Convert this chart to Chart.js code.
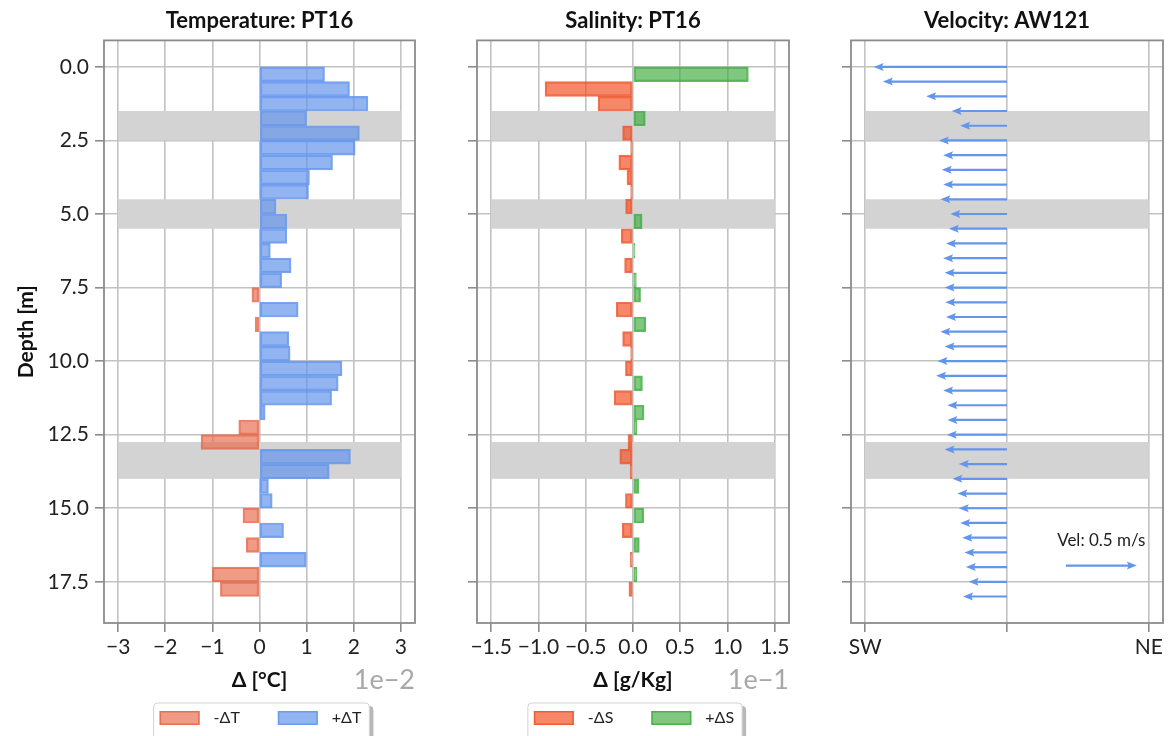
<!DOCTYPE html>
<html>
<head>
<meta charset="utf-8">
<script src="https://cdn.jsdelivr.net/npm/chart.js@4.4.1/dist/chart.umd.min.js"></script>
<style>
  html, body { margin: 0; padding: 0; background: #fff; overflow: hidden; }
  #wrap { position: relative; width: 1168px; height: 736px; }
  canvas { position: absolute; top: 0; }
</style>
</head>
<body>
<div id="wrap">
  <canvas id="cT" width="440" height="736" style="left:0px"></canvas>
  <canvas id="cS" width="370" height="736" style="left:440px"></canvas>
  <canvas id="cV" width="358" height="736" style="left:810px"></canvas>
</div>
<script>
// ---- profile data: 0.5 m depth bins starting at the surface ----
const binWidth = 0.5;
const depthTop = [0, 0.5, 1, 1.5, 2, 2.5, 3, 3.5, 4, 4.5, 5, 5.5, 6, 6.5, 7, 7.5, 8, 8.5,
                  9, 9.5, 10, 10.5, 11, 11.5, 12, 12.5, 13, 13.5, 14, 14.5, 15, 15.5, 16, 16.5, 17, 17.5];

// temperature change per bin [°C]
const tempDelta = [0.0138, 0.0191, 0.0230, 0.0100, 0.0212, 0.0203, 0.0155, 0.0106, 0.0104, 0.0035,
                   0.0058, 0.0058, 0.0023, 0.0067, 0.0047, -0.0016, 0.0082, -0.0009, 0.0062, 0.0065,
                   0.0175, 0.0167, 0.0153, 0.0012, -0.0044, -0.0124, 0.0193, 0.0148, 0.0019, 0.0027,
                   -0.0035, 0.0051, -0.0028, 0.0099, -0.0100, -0.0083];

// salinity change per bin [g/kg]
const salDelta = [0.122, -0.093, -0.037, 0.013, -0.011, -0.0025, -0.015, -0.0064, -0.0025, -0.0078,
                  0.0096, -0.0124, 0.002, -0.0089, 0.0035, 0.008, -0.0177, 0.0135, -0.011, -0.0025,
                  -0.008, 0.010, -0.020, 0.0117, 0.004, -0.0053, -0.014, -0.003, 0.006, -0.008,
                  0.0113, -0.0113, 0.0067, -0.0028, 0.004, -0.0043];

// current meter AW121: along-shore velocity [m/s] (negative = towards SW)
const velDepth = [0, 0.5, 1, 1.5, 2, 2.5, 3, 3.5, 4, 4.5, 5, 5.5, 6, 6.5, 7, 7.5, 8, 8.5, 9,
                  9.5, 10, 10.5, 11, 11.5, 12, 12.5, 13, 13.5, 14, 14.5, 15, 15.5, 16, 16.5, 17, 17.5, 18];
const velU = [-0.94, -0.875, -0.57, -0.39, -0.33, -0.48, -0.45, -0.46, -0.45, -0.47, -0.40, -0.41,
              -0.43, -0.45, -0.44, -0.44, -0.435, -0.43, -0.47, -0.44, -0.49, -0.50, -0.45, -0.42,
              -0.42, -0.425, -0.44, -0.34, -0.385, -0.35, -0.34, -0.33, -0.315, -0.30, -0.29, -0.27, -0.31];

// depth ranges flagged as unreliable (shaded)
const flaggedLayers = [[1.5, 2.5], [4.5, 5.5], [12.75, 14.0]];

// axes
const depthMin = -0.9, depthMax = 18.9;
const depthTicks = [0, 2.5, 5, 7.5, 10, 12.5, 15, 17.5];
const tempTicks = [-0.03, -0.02, -0.01, 0, 0.01, 0.02, 0.03];
const salTicks = [-0.15, -0.10, -0.05, 0, 0.05, 0.10, 0.15];
const velTicks = [-1, 0, 1];
const velTickLabels = ['SW', '', 'NE'];

// velocity reference arrow
const keyU = 0.5, keyStartU = 0.415, keyDepth = 16.95, keyTextDepth = 16.1;
const keyLabel = 'Vel: 0.5 m/s';

// ---- styling ----
Chart.defaults.font.family = 'Lato, "DejaVu Sans", sans-serif';
Chart.defaults.color = '#222';
const GRID = '#c2c2c2';
const SPINE = '#8c8c8c';
const BAND = '#d3d3d3';
const ARROW = '#6495ed';

const minus = s => String(s).replace('-', '\u2212');

function bins(values, keep) {
  return depthTop.map((d, i) => ({ y: d + binWidth / 2, x: values[i] })).filter(p => keep(p.x));
}

function barSet(label, data, fill, edge) {
  return {
    label, data,
    backgroundColor: fill, borderColor: edge, borderWidth: 1.5, borderSkipped: false,
    grouped: false, barPercentage: 1, categoryPercentage: 1
  };
}

// shaded layers, drawn under the data but over the grid
function bandsPlugin(span) {
  return {
    id: 'bands',
    beforeDatasetsDraw(chart) {
      const { ctx, scales: { x, y } } = chart;
      ctx.save();
      ctx.fillStyle = BAND;
      const x0 = x.getPixelForValue(span[0]), x1 = x.getPixelForValue(span[1]);
      flaggedLayers.forEach(([d0, d1]) => {
        const y0 = y.getPixelForValue(d0), y1 = y.getPixelForValue(d1);
        ctx.fillRect(x0, y0, x1 - x0, y1 - y0);
      });
      ctx.restore();
    }
  };
}

// axes frame on all four sides
const framePlugin = {
  id: 'frame',
  afterDraw(chart) {
    const { ctx, chartArea: a } = chart;
    ctx.save();
    ctx.strokeStyle = SPINE;
    ctx.lineWidth = 1.8;
    ctx.strokeRect(a.left, a.top, a.right - a.left, a.bottom - a.top);
    ctx.restore();
  }
};

// scale multiplier shown at the end of the x axis
function offsetTextPlugin(text) {
  return {
    id: 'offsetText',
    afterDraw(chart) {
      const { ctx, chartArea: a } = chart;
      ctx.save();
      ctx.font = '27px Lato, sans-serif';
      ctx.fillStyle = '#a8a8a8';
      ctx.textAlign = 'right';
      ctx.textBaseline = 'middle';
      ctx.fillText(text, a.right, a.bottom + 57);
      ctx.restore();
    }
  };
}

// framed legend below the axis
const boxLegendPlugin = {
  id: 'boxLegend',
  afterDraw(chart) {
    const { ctx, chartArea: a } = chart;
    const sw = 40, sh = 14, gapText = 14, gapItem = 38;
    ctx.save();
    ctx.font = '16px Lato, sans-serif';
    const items = chart.data.datasets.map(d => ({
      label: d.label, fill: d.backgroundColor, edge: d.borderColor, w: ctx.measureText(d.label).width
    }));
    const total = items.reduce((s, it) => s + sw + gapText + it.w, 0) + gapItem * (items.length - 1);
    let x = (a.left + a.right) / 2 - total / 2 + 1;
    const cy = a.bottom + 95;
    const bx = x - 6, by = cy - 15, bw = total + 14, bh = 60;
    ctx.fillStyle = 'rgba(0,0,0,0.28)';
    ctx.beginPath(); ctx.roundRect(bx + 4, by + 3, bw, bh, 4); ctx.fill();
    ctx.fillStyle = '#fff';
    ctx.strokeStyle = '#d2d2d2';
    ctx.lineWidth = 1;
    ctx.beginPath(); ctx.roundRect(bx, by, bw, bh, 4); ctx.fill(); ctx.stroke();
    ctx.textBaseline = 'middle';
    ctx.textAlign = 'left';
    items.forEach(it => {
      ctx.fillStyle = it.fill;
      ctx.fillRect(x, cy - sh / 2, sw, sh);
      ctx.strokeStyle = it.edge;
      ctx.lineWidth = 1.5;
      ctx.strokeRect(x + 0.75, cy - sh / 2 + 0.75, sw - 1.5, sh - 1.5);
      ctx.fillStyle = '#222';
      ctx.fillText(it.label, x + sw + gapText, cy);
      x += sw + gapText + it.w + gapItem;
    });
    ctx.restore();
  }
};

function drawArrow(ctx, x0, y0, x1, y1) {
  const len = Math.hypot(x1 - x0, y1 - y0);
  const ang = Math.atan2(y1 - y0, x1 - x0);
  const hw = 1.1, headLen = 10, headAx = 8.5, headW = 4;
  ctx.save();
  ctx.translate(x0, y0);
  ctx.rotate(ang);
  ctx.beginPath();
  ctx.moveTo(0, -hw);
  ctx.lineTo(len - headAx, -hw);
  ctx.lineTo(len - headLen, -headW);
  ctx.lineTo(len, 0);
  ctx.lineTo(len - headLen, headW);
  ctx.lineTo(len - headAx, hw);
  ctx.lineTo(0, hw);
  ctx.closePath();
  ctx.fill();
  ctx.restore();
}

// quiver arrows from the velocity dataset, plus a reference arrow
const quiverPlugin = {
  id: 'quiver',
  afterDatasetsDraw(chart) {
    const { ctx, scales: { x, y } } = chart;
    ctx.save();
    ctx.fillStyle = ARROW;
    const x0 = x.getPixelForValue(0);
    chart.data.datasets[0].data.forEach(p => {
      const py = y.getPixelForValue(p.y);
      drawArrow(ctx, x0, py, x.getPixelForValue(p.x), py);
    });
    const ky = y.getPixelForValue(keyDepth);
    drawArrow(ctx, x.getPixelForValue(keyStartU), ky, x.getPixelForValue(keyStartU + keyU), ky);
    ctx.fillStyle = '#222';
    ctx.font = '17px Lato, sans-serif';
    ctx.textAlign = 'center';
    ctx.textBaseline = 'middle';
    ctx.fillText(keyLabel, x.getPixelForValue(keyStartU + keyU / 2), y.getPixelForValue(keyTextDepth));
    ctx.restore();
  }
};

function panelOptions(cfg) {
  const grid = { color: GRID, lineWidth: 1.6, tickColor: SPINE, tickLength: 9, tickWidth: 1.6, offset: false };
  return {
    responsive: false,
    animation: false,
    events: [],
    indexAxis: cfg.indexAxis || 'x',
    layout: { padding: { left: 0, top: 0, bottom: 0, right: cfg.padRight } },
    plugins: {
      legend: { display: false },
      tooltip: { enabled: false },
      title: {
        display: true, text: cfg.title, fullSize: false, color: '#111',
        font: { size: 22, weight: 'bold' }, padding: { top: 8, bottom: 6 }
      }
    },
    scales: {
      x: {
        type: 'linear', position: 'bottom', min: cfg.xMin, max: cfg.xMax, offset: false,
        afterBuildTicks: s => { s.ticks = cfg.xTicks.map(v => ({ value: v })); },
        afterFit: s => { s.height = 113; },
        ticks: { callback: cfg.xFmt, font: { size: 21 }, color: '#222', padding: 3, maxRotation: 0, autoSkip: false },
        grid,
        border: { display: false },
        title: {
          display: !!cfg.xTitle, text: cfg.xTitle || '', color: '#111',
          font: { size: 21, weight: 'bold' }, padding: { top: 0, bottom: 43 }
        }
      },
      y: {
        type: 'linear', position: 'left', reverse: true, min: depthMin, max: depthMax, offset: false,
        afterBuildTicks: s => { s.ticks = depthTicks.map(v => ({ value: v })); },
        afterFit: s => { s.width = cfg.yWidth; },
        ticks: { display: cfg.depthLabels, callback: v => v.toFixed(1), font: { size: 21 }, color: '#222', padding: 6 },
        grid,
        border: { display: false },
        title: {
          display: cfg.depthLabels, text: 'Depth [m]', color: '#111',
          font: { size: 21, weight: 'bold' }, padding: { top: 14, bottom: 0 }
        }
      }
    }
  };
}

// Temperature
new Chart(document.getElementById('cT'), {
  type: 'bar',
  data: {
    datasets: [
      barSet('-\u0394T', bins(tempDelta, v => v < 0), 'rgba(231,108,77,0.68)', 'rgba(228,100,70,0.8)'),
      barSet('+\u0394T', bins(tempDelta, v => v >= 0), 'rgba(100,149,237,0.7)', 'rgba(100,149,237,0.85)')
    ]
  },
  options: panelOptions({
    indexAxis: 'y', title: 'Temperature: PT16', padRight: 25, yWidth: 104, depthLabels: true,
    xMin: -0.033, xMax: 0.033, xTicks: tempTicks, xTitle: '\u0394 [\u00b0C]',
    xFmt: v => minus(Math.round(v * 100))
  }),
  plugins: [bandsPlugin([-0.03, 0.03]), framePlugin, offsetTextPlugin('1e\u22122'), boxLegendPlugin]
});

// Salinity
new Chart(document.getElementById('cS'), {
  type: 'bar',
  data: {
    datasets: [
      barSet('-\u0394S', bins(salDelta, v => v < 0), 'rgba(241,80,34,0.68)', 'rgba(238,80,40,0.8)'),
      barSet('+\u0394S', bins(salDelta, v => v >= 0), 'rgba(60,170,60,0.65)', 'rgba(60,170,60,0.8)')
    ]
  },
  options: panelOptions({
    indexAxis: 'y', title: 'Salinity: PT16', padRight: 21, yWidth: 37, depthLabels: false,
    xMin: -0.165, xMax: 0.165, xTicks: salTicks, xTitle: '\u0394 [g/Kg]',
    xFmt: v => minus((v * 10).toFixed(1))
  }),
  plugins: [bandsPlugin([-0.15, 0.15]), framePlugin, offsetTextPlugin('1e\u22121'), boxLegendPlugin]
});

// Velocity
new Chart(document.getElementById('cV'), {
  type: 'scatter',
  data: {
    datasets: [{
      label: 'AW121',
      data: velU.map((u, i) => ({ x: u, y: velDepth[i] })),
      pointRadius: 0
    }]
  },
  options: panelOptions({
    title: 'Velocity: AW121', padRight: 5, yWidth: 41, depthLabels: false,
    xMin: -1.1, xMax: 1.1, xTicks: velTicks,
    xFmt: (v, i) => velTickLabels[i]
  }),
  plugins: [bandsPlugin([-1, 1]), quiverPlugin, framePlugin]
});
</script>
</body>
</html>
